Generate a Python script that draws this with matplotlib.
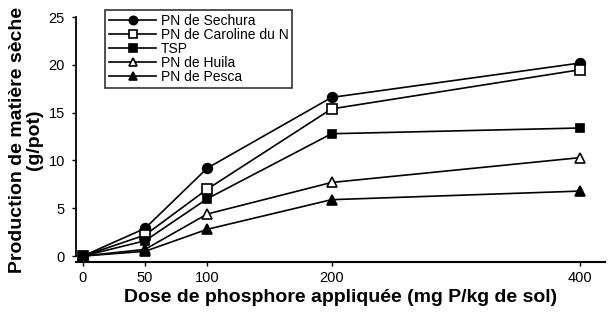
import matplotlib
matplotlib.use("Agg")
import matplotlib.pyplot as plt

plt.rcParams['font.family'] = ['Liberation Sans', 'DejaVu Sans']

# Doses de phosphore (mg P/kg de sol)
doses = [0, 50, 100, 200, 400]

# Production de matière sèche (g/pot)
sechura = [0.0, 2.9, 9.2, 16.6, 20.2]
caroline = [0.0, 2.2, 7.0, 15.4, 19.5]
tsp = [0.0, 1.6, 6.0, 12.8, 13.4]
huila = [0.0, 0.7, 4.4, 7.7, 10.3]
pesca = [0.0, 0.5, 2.8, 5.9, 6.8]

noms = ['PN de Sechura', 'PN de Caroline du N', 'TSP', 'PN de Huila', 'PN de Pesca']
series = [sechura, caroline, tsp, huila, pesca]
styles = [
    dict(marker='o', mfc='black', ms=7),
    dict(marker='s', mfc='white', ms=7),
    dict(marker='s', mfc='black', ms=6),
    dict(marker='^', mfc='white', ms=7),
    dict(marker='^', mfc='black', ms=7),
]

fig = plt.figure(figsize=(6.08, 3.12), dpi=100)
ax = fig.add_axes([0.125, 0.160, 0.87, 0.785])

for nom, y, st in zip(noms, series, styles):
    ax.plot(doses, y, color='black', lw=1.2, mec='black', mew=1.2, label=nom, **st)

ax.set_xlim(-5.6, 420)
ax.set_ylim(-0.63, 25)
ax.set_xticks(doses)
ax.set_yticks([0, 5, 10, 15, 20, 25])

ax.spines['top'].set_visible(False)
ax.spines['right'].set_visible(False)
ax.spines['left'].set_bounds(0, 25)
ax.spines['left'].set_linewidth(1.3)
ax.spines['bottom'].set_linewidth(1.5)
ax.tick_params(axis='both', labelsize=10.5, width=1, length=3, direction='out')
ax.tick_params(axis='y', pad=5)

ax.set_xlabel('Dose de phosphore appliquée (mg P/kg de sol)', fontsize=14,
              fontweight='bold', labelpad=3)
ax.set_ylabel('Production de matière sèche\n(g/pot)', fontsize=14,
              fontweight='bold', labelpad=4, linespacing=1.0)

leg = ax.legend(loc='upper left', bbox_to_anchor=(105 / 608, 1 - 10 / 312),
                bbox_transform=fig.transFigure, fontsize=10, frameon=True,
                fancybox=False, edgecolor='black', handlelength=3.4,
                handletextpad=0.3, labelspacing=0.0, borderpad=0.3,
                borderaxespad=0, markerscale=0.85)
leg.get_frame().set_linewidth(1.2)

fig.savefig('out.png', dpi=100)
